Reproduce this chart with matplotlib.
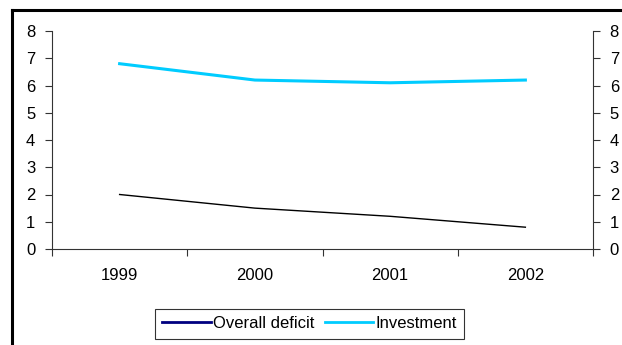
import numpy as np
import matplotlib.pyplot as plt
from matplotlib.lines import Line2D

plt.rcParams['font.family'] = ['Liberation Sans', 'DejaVu Sans']

years = ['1999', '2000', '2001', '2002']
overall_deficit = [2.0, 1.5, 1.2, 0.8]
investment = [6.8, 6.2, 6.1, 6.2]

W, H = 622, 345
fig = plt.figure(figsize=(W / 100, H / 100), dpi=100)
ax = fig.add_axes([52 / W, 1 - 249 / H, (593 - 52) / W, (249 - 31) / H])

x = np.arange(len(years))
ax.plot(x, overall_deficit, color='black', lw=1.0)
ax.plot(x, investment, color='#00CCFF', lw=2.2)

ax.set_xlim(-0.5, len(years) - 0.5)
ax.set_ylim(0, 8)
ax.set_yticks(range(0, 9))
ax.set_xticks(x)
ax.set_xticklabels(years)
ax.set_xticks(np.arange(-0.5, len(years)), minor=True)
ax.tick_params(axis='x', which='major', length=0, pad=14, labelsize=12)
ax.tick_params(axis='x', which='minor', length=5, direction='out', width=0.8, color='#333333')
ax.tick_params(axis='y', length=5, width=0.8, labelsize=12, pad=7, color='#333333')

ax.spines['top'].set_visible(False)
ax.spines['right'].set_visible(False)
ax.spines['left'].set_color('#333333')
ax.spines['bottom'].set_color('#333333')
ax.spines['left'].set_linewidth(0.8)
ax.spines['bottom'].set_linewidth(0.8)

ax2 = ax.twinx()
ax2.set_ylim(0, 8)
ax2.set_yticks(range(0, 9))
ax2.tick_params(axis='y', length=5, width=0.8, labelsize=12, pad=7, color='#333333')
for s in ['top', 'left', 'bottom']:
    ax2.spines[s].set_visible(False)
ax2.spines['right'].set_color('#333333')
ax2.spines['right'].set_linewidth(0.8)

handles = [Line2D([], [], color='#000080', lw=2.0),
           Line2D([], [], color='#00CCFF', lw=2.0)]
leg = fig.legend(handles, ['Overall deficit', 'Investment'], loc='center',
                 bbox_to_anchor=(309.5 / W, 1 - 323.5 / H), ncol=2, frameon=True,
                 fancybox=False, edgecolor='black', fontsize=12,
                 handlelength=2.9, handletextpad=0.15, columnspacing=0.6,
                 borderpad=0.45, borderaxespad=0)
leg.get_frame().set_linewidth(0.8)

# outer chart border (cropped at right and bottom)
fig.add_artist(Line2D([11.5 / W, 11.5 / W], [0, 1 - 10 / H], color='black', lw=2.2))
fig.add_artist(Line2D([11.5 / W, 1], [1 - 10 / H, 1 - 10 / H], color='black', lw=2.2))

fig.savefig('out.png', dpi=100)
